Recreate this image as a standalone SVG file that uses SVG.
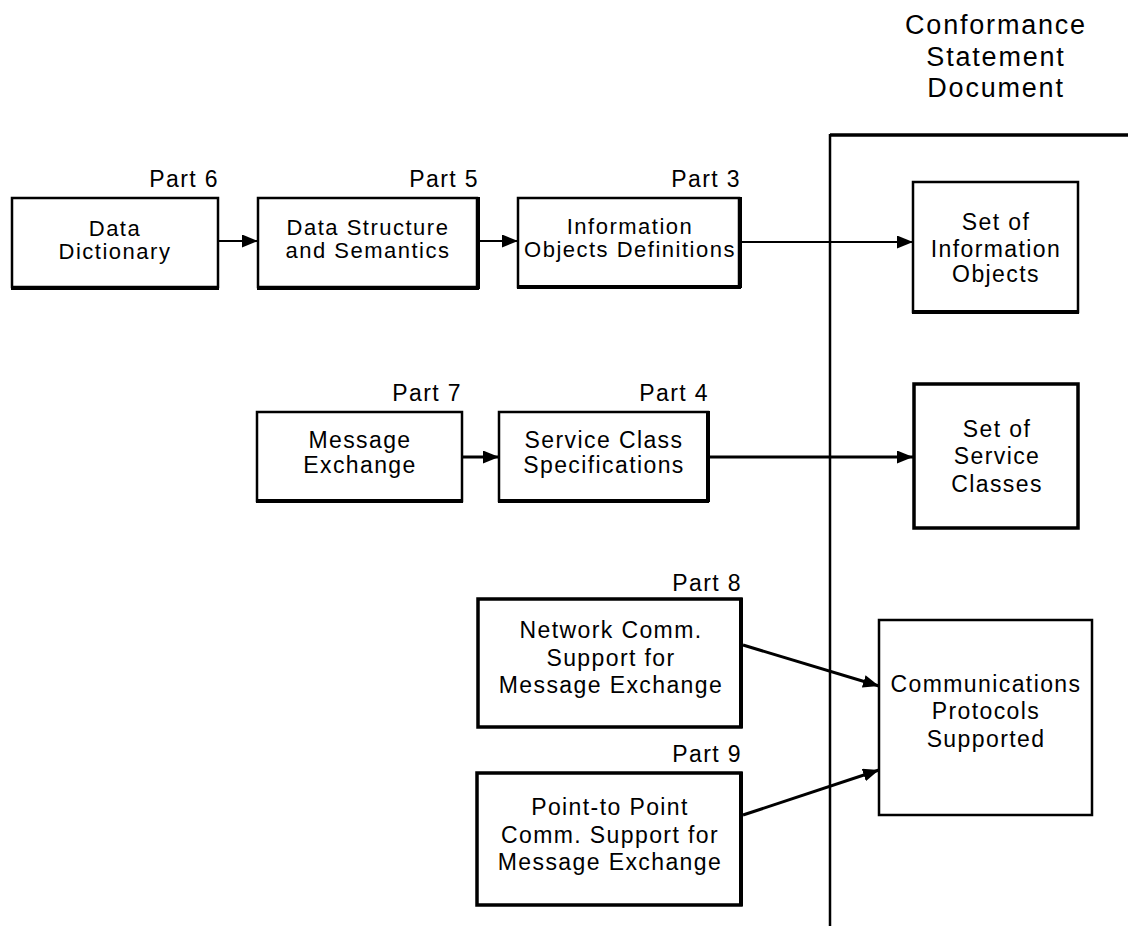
<svg xmlns="http://www.w3.org/2000/svg" width="1128" height="926" viewBox="0 0 1128 926">
<style>
text{font-family:"Liberation Sans",Arial,sans-serif;font-size:23px;fill:#000;letter-spacing:1.4px}
.c{text-anchor:middle}
.r{text-anchor:end}
.s{font-size:22px;letter-spacing:1.5px}
.box{fill:#fff;stroke:#000;stroke-width:2.5}
.thick{stroke-width:3.5}
.edge{stroke:#000;stroke-width:4;fill:none}
.con{stroke:#000;fill:none}
.t{font-size:27px;letter-spacing:1.8px}
</style>
<defs>
<marker id="ah" markerUnits="userSpaceOnUse" markerWidth="17" markerHeight="13" refX="16" refY="6.5" orient="auto">
<path d="M0,0 L16,6.5 L0,13 z" fill="#000"/>
</marker>
</defs>

<g id="title">
<text class="c t" x="996" y="34">Conformance</text>
<text class="c t" x="996" y="66">Statement</text>
<text class="c t" x="996" y="97">Document</text>
</g>

<g id="frame">
<line x1="830" y1="135" x2="1128" y2="135" stroke="#000" stroke-width="3.5"/>
<line x1="830" y1="134" x2="830" y2="926" stroke="#000" stroke-width="2.5"/>
</g>

<g id="connectors">
<line class="con" stroke-width="2" x1="219" y1="241" x2="258" y2="241" marker-end="url(#ah)"/>
<line class="con" stroke-width="2" x1="479" y1="241" x2="518" y2="241" marker-end="url(#ah)"/>
<line class="con" stroke-width="2" x1="741" y1="242" x2="913" y2="242" marker-end="url(#ah)"/>
<line class="con" stroke-width="3" x1="463" y1="457" x2="499" y2="457" marker-end="url(#ah)"/>
<line class="con" stroke-width="3" x1="709" y1="457" x2="913" y2="457" marker-end="url(#ah)"/>
<line class="con" stroke-width="3" x1="743" y1="645" x2="879" y2="686" marker-end="url(#ah)"/>
<line class="con" stroke-width="3" x1="743" y1="815" x2="879" y2="770" marker-end="url(#ah)"/>
</g>

<g id="part6">
<rect class="box" x="12" y="198" width="206" height="89"/>
<line class="edge" x1="11" y1="288" x2="219" y2="288"/>
<text class="r" x="219" y="187">Part 6</text>
<text class="c s" x="115" y="236">Data</text>
<text class="c s" x="115" y="259">Dictionary</text>
</g>

<g id="part5">
<rect class="box" x="258" y="198" width="219" height="89"/>
<line class="edge" x1="257" y1="288" x2="479" y2="288"/>
<line class="edge" x1="478" y1="197" x2="478" y2="289"/>
<text class="r" x="479" y="187">Part 5</text>
<text class="c s" x="368" y="235">Data Structure</text>
<text class="c s" x="368" y="258">and Semantics</text>
</g>

<g id="part3">
<rect class="box" x="518" y="198" width="221" height="89"/>
<line class="edge" x1="517" y1="287" x2="741" y2="287"/>
<line class="edge" x1="740" y1="197" x2="740" y2="288"/>
<text class="r" x="741" y="187">Part 3</text>
<text class="c s" x="630" y="234">Information</text>
<text class="c s" x="630" y="257">Objects Definitions</text>
</g>

<g id="set-io">
<rect class="box" x="913" y="182" width="165" height="130"/>
<line class="edge" x1="912" y1="312" x2="1079" y2="312"/>
<text class="c" x="996" y="230">Set of</text>
<text class="c" x="996" y="257">Information</text>
<text class="c" x="996" y="282">Objects</text>
</g>

<g id="part7">
<rect class="box" x="257" y="412" width="205" height="89"/>
<line class="edge" x1="256" y1="501" x2="463" y2="501"/>
<text class="r" x="462" y="401">Part 7</text>
<text class="c" x="360" y="448">Message</text>
<text class="c" x="360" y="473">Exchange</text>
</g>

<g id="part4">
<rect class="box" x="499" y="412" width="209" height="89"/>
<line class="edge" x1="498" y1="501" x2="709" y2="501"/>
<line class="edge" x1="708" y1="411" x2="708" y2="502"/>
<text class="r" x="709" y="401">Part 4</text>
<text class="c" x="604" y="448">Service Class</text>
<text class="c" x="604" y="473">Specifications</text>
</g>

<g id="set-sc">
<rect class="box thick" x="914" y="384" width="164" height="144"/>
<text class="c" x="997" y="437">Set of</text>
<text class="c" x="997" y="464">Service</text>
<text class="c" x="997" y="492">Classes</text>
</g>

<g id="part8">
<rect class="box thick" x="478" y="599" width="263" height="128"/>
<line class="edge" x1="741" y1="598" x2="741" y2="728"/>
<text class="r" x="742" y="591">Part 8</text>
<text class="c" x="611" y="638">Network Comm.</text>
<text class="c" x="611" y="666">Support for</text>
<text class="c" x="611" y="693">Message Exchange</text>
</g>

<g id="part9">
<rect class="box thick" x="477" y="773" width="264" height="132"/>
<line class="edge" x1="741" y1="772" x2="741" y2="906"/>
<text class="r" x="742" y="762">Part 9</text>
<text class="c" x="610" y="815">Point-to Point</text>
<text class="c" x="610" y="843">Comm. Support for</text>
<text class="c" x="610" y="870">Message Exchange</text>
</g>

<g id="comm">
<rect class="box" x="879" y="620" width="213" height="195"/>
<text class="c" x="986" y="692">Communications</text>
<text class="c" x="986" y="719">Protocols</text>
<text class="c" x="986" y="747">Supported</text>
</g>
</svg>
